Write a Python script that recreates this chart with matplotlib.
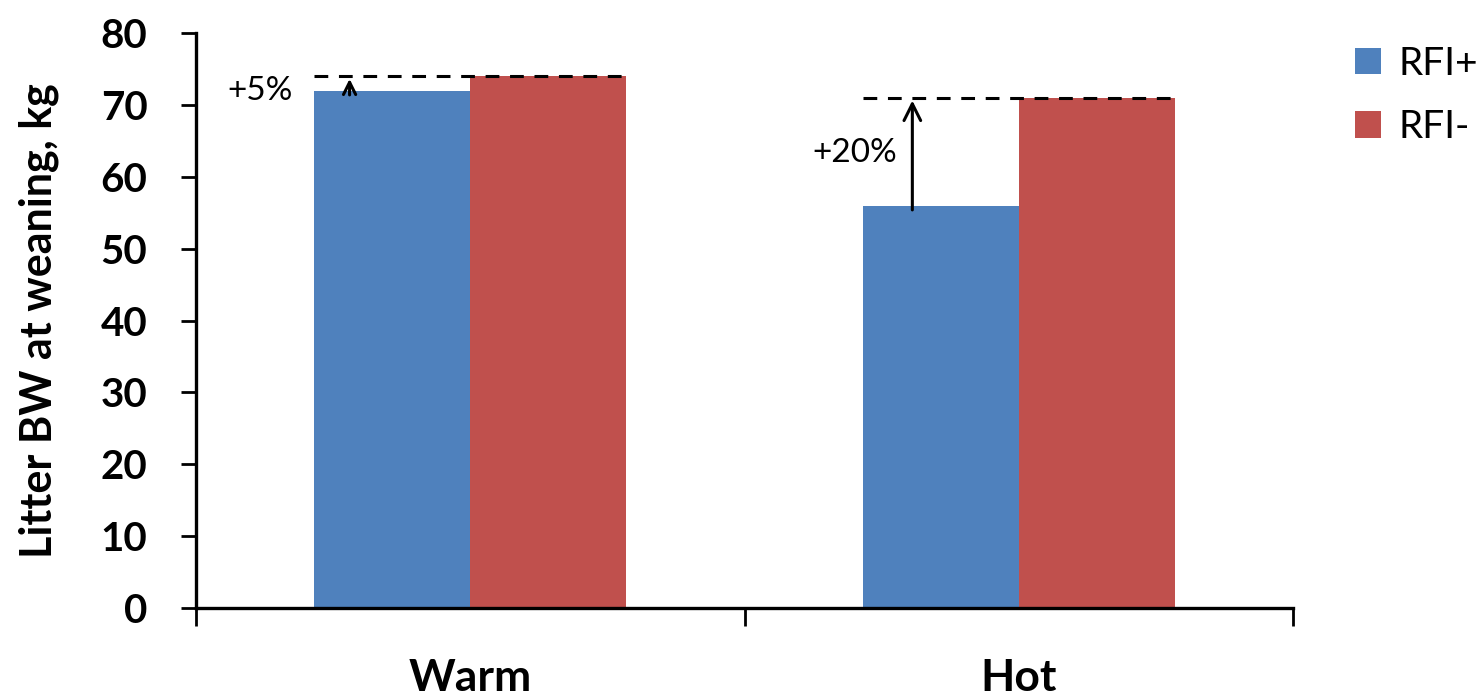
import matplotlib
matplotlib.use("Agg")
import matplotlib.pyplot as plt
import numpy as np

plt.rcParams['font.family'] = ['Lato', 'DejaVu Sans']

categories = ["Warm", "Hot"]
series_names = ["RFI+", "RFI-"]
rfi_plus = [72, 56]
rfi_minus = [74, 71]
pct_labels = ["+5%", "+20%"]
yticks = [0, 10, 20, 30, 40, 50, 60, 70, 80]

blue = "#4F81BD"
red = "#C0504D"

fig = plt.figure(figsize=(14.81, 6.98), dpi=100)
ax = fig.add_axes([196/1481, 1-608/698, (1293-196)/1481, (608-33)/698])

x = np.arange(len(categories))
w = 0.284
ax.bar(x - w/2, rfi_plus, w, color=blue, label=series_names[0])
ax.bar(x + w/2, rfi_minus, w, color=red, label=series_names[1])

ax.set_xlim(-0.5, len(categories) - 0.5)
ax.set_ylim(0, 80)

# dashed reference lines & arrows
for i in range(len(categories)):
    ax.plot([x[i] - w, x[i] + w], [rfi_minus[i], rfi_minus[i]], color='black',
            lw=2.2, linestyle=(0, (4.5, 3.5)), zorder=3)
ax.annotate("", xy=(x[0] - w + 0.064, rfi_minus[0]), xytext=(x[0] - w + 0.064, 71),
            arrowprops=dict(arrowstyle='->', lw=2.2, color='black', mutation_scale=22))
ax.annotate("", xy=(x[1] - w + 0.09, rfi_minus[1]), xytext=(x[1] - w + 0.09, 55),
            arrowprops=dict(arrowstyle='->', lw=2.2, color='black', mutation_scale=30))
ax.text(-0.443, 71.9, pct_labels[0], fontsize=24, ha='left', va='center')
ax.text(1 - w + 0.062, 63.3, pct_labels[1], fontsize=24, ha='right', va='center')

for s in ['top', 'right']:
    ax.spines[s].set_visible(False)
for s in ['left', 'bottom']:
    ax.spines[s].set_linewidth(2.4)

ax.set_yticks(yticks)
ax.set_yticklabels([str(v) for v in yticks], fontsize=29, fontweight='bold')
ax.tick_params(axis='y', direction='out', length=11, width=2, pad=24)

ax.set_xticks([-0.5, 0.5, 1.5])
ax.set_xticklabels([])
ax.tick_params(axis='x', which='major', direction='out', length=13, width=2)
ax.set_xticks(x, minor=True)
ax.set_xticklabels(categories, minor=True, fontsize=32, fontweight='bold')
ax.tick_params(axis='x', which='minor', length=0, pad=36)

ax.set_ylabel("Litter BW at weaning, kg", fontsize=31, fontweight='bold', labelpad=30)

leg = ax.legend(loc='upper left', bbox_to_anchor=(1.042, 1.005), frameon=False,
                fontsize=28, handlelength=0.68, handleheight=0.68,
                handletextpad=0.45, labelspacing=0.7, borderaxespad=0)

fig.savefig("out.png", dpi=100)
